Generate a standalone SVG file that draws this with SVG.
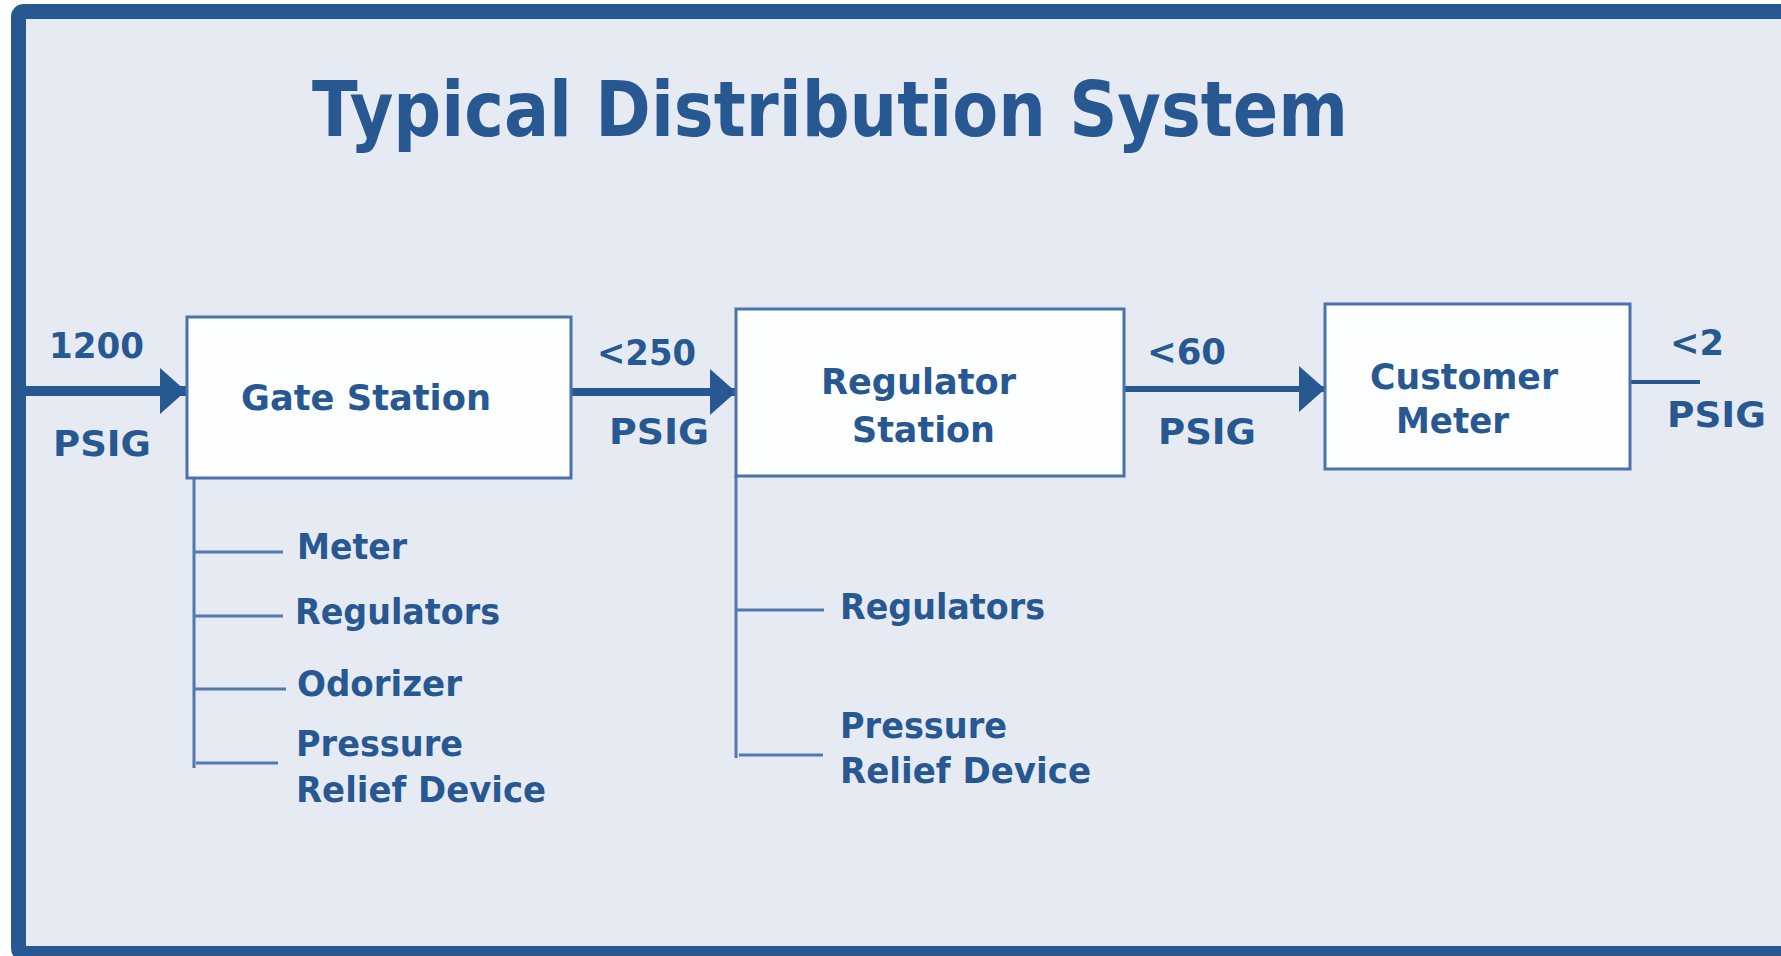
<svg xmlns="http://www.w3.org/2000/svg" width="1781" height="956" viewBox="0 0 1781 956">
<style>
.t{font-family:"DejaVu Sans","Verdana",sans-serif;font-weight:bold;fill:#285891}
.lbl{font-size:35px}
.box{fill:#FDFEFF;stroke:#4B73A9;stroke-width:3}
.br{stroke:#5079B0;stroke-width:3;fill:none}
.flow{stroke:#285891;fill:none}
</style>
<defs>
<marker id="ah" markerUnits="userSpaceOnUse" markerWidth="28" markerHeight="48" refX="26" refY="24" orient="auto" viewBox="0 0 28 48">
<path d="M0,1 L26,24 L0,47 Z" fill="#285891"/>
</marker>
</defs>
<rect x="0" y="0" width="1781" height="956" fill="#FFFFFF"/>
<rect x="18.5" y="11.5" width="1800" height="942" rx="5" fill="#E6EBF3" stroke="#285891" stroke-width="15"/>
<text class="t" x="312" y="136" font-size="77" textLength="1036" lengthAdjust="spacingAndGlyphs">Typical Distribution System</text>
<g id="connectors">
<line class="flow" x1="26" y1="391" x2="186" y2="391" stroke-width="10" marker-end="url(#ah)"/>
<line class="flow" x1="571" y1="392" x2="736" y2="392" stroke-width="8" marker-end="url(#ah)"/>
<line class="flow" x1="1124" y1="389" x2="1325" y2="389" stroke-width="6" marker-end="url(#ah)"/>
<line class="flow" x1="1630" y1="382" x2="1700" y2="382" stroke-width="4"/>
<path class="br" d="M194,478 V768 M194,552 H283 M194,616 H283 M194,689 H286 M196,763 H278"/>
<path class="br" d="M736,476 V758 M736,610 H824 M739,755 H823"/>
</g>
<g id="gate-station">
<rect class="box" x="187" y="317" width="384" height="161"/>
<text class="t lbl" x="241" y="410" textLength="250" lengthAdjust="spacingAndGlyphs">Gate Station</text>
</g>
<g id="regulator-station">
<rect class="box" x="736" y="309" width="388" height="167"/>
<text class="t lbl" x="821" y="394" textLength="195" lengthAdjust="spacingAndGlyphs">Regulator</text>
<text class="t lbl" x="852" y="442" textLength="143" lengthAdjust="spacingAndGlyphs">Station</text>
</g>
<g id="customer-meter">
<rect class="box" x="1325" y="304" width="305" height="165"/>
<text class="t lbl" x="1370" y="389" textLength="188" lengthAdjust="spacingAndGlyphs">Customer</text>
<text class="t lbl" x="1396" y="433" textLength="113" lengthAdjust="spacingAndGlyphs">Meter</text>
</g>
<g id="pressures">
<text class="t lbl" x="49" y="358" textLength="95" lengthAdjust="spacingAndGlyphs">1200</text>
<text class="t lbl" x="53" y="456" textLength="98" lengthAdjust="spacingAndGlyphs">PSIG</text>
<text class="t lbl" x="597" y="365" textLength="99" lengthAdjust="spacingAndGlyphs">&lt;250</text>
<text class="t lbl" x="609" y="444" textLength="100" lengthAdjust="spacingAndGlyphs">PSIG</text>
<text class="t lbl" x="1147" y="364" textLength="79" lengthAdjust="spacingAndGlyphs">&lt;60</text>
<text class="t lbl" x="1158" y="444" textLength="98" lengthAdjust="spacingAndGlyphs">PSIG</text>
<text class="t lbl" x="1670" y="355" textLength="54" lengthAdjust="spacingAndGlyphs">&lt;2</text>
<text class="t lbl" x="1667" y="427" textLength="99" lengthAdjust="spacingAndGlyphs">PSIG</text>
</g>
<g id="gate-components">
<text class="t lbl" x="297" y="559" textLength="110" lengthAdjust="spacingAndGlyphs">Meter</text>
<text class="t lbl" x="295" y="624" textLength="205" lengthAdjust="spacingAndGlyphs">Regulators</text>
<text class="t lbl" x="297" y="696" textLength="165" lengthAdjust="spacingAndGlyphs">Odorizer</text>
<text class="t lbl" x="296" y="756" textLength="167" lengthAdjust="spacingAndGlyphs">Pressure</text>
<text class="t lbl" x="296" y="802" textLength="250" lengthAdjust="spacingAndGlyphs">Relief Device</text>
</g>
<g id="regulator-components">
<text class="t lbl" x="840" y="619" textLength="205" lengthAdjust="spacingAndGlyphs">Regulators</text>
<text class="t lbl" x="840" y="738" textLength="167" lengthAdjust="spacingAndGlyphs">Pressure</text>
<text class="t lbl" x="840" y="783" textLength="251" lengthAdjust="spacingAndGlyphs">Relief Device</text>
</g>
</svg>
